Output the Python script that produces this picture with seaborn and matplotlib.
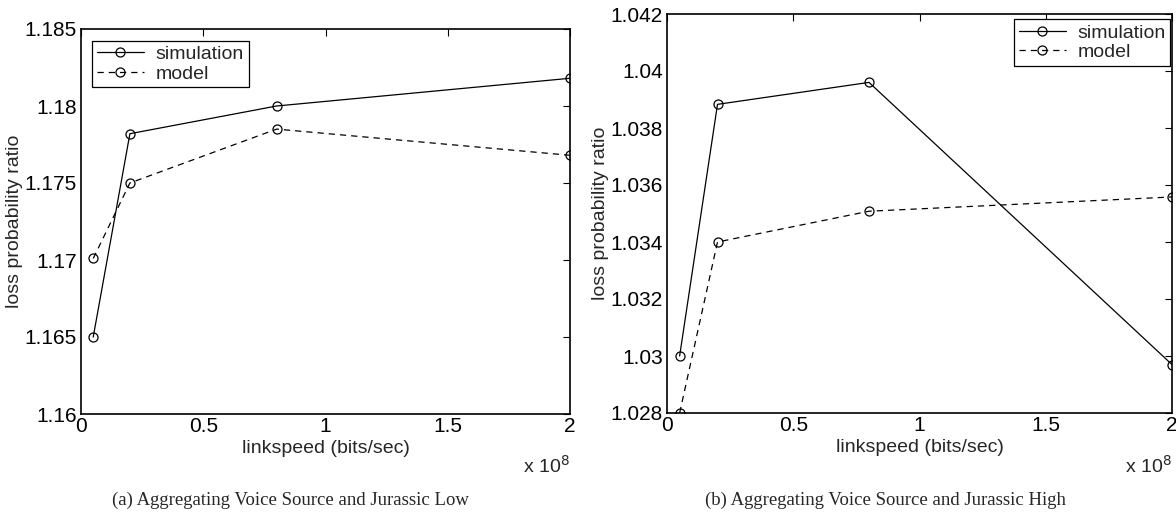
import numpy as np
import pandas as pd
import matplotlib
matplotlib.use("Agg")
import matplotlib.pyplot as plt
from matplotlib.ticker import FuncFormatter
import seaborn as sns

# ---- data ----
linkspeed = [0.05e8, 0.2e8, 0.8e8, 2.0e8]
low_simulation = [1.1650, 1.1782, 1.1800, 1.1818]
low_model = [1.1701, 1.1750, 1.1785, 1.1768]
high_simulation = [1.0300, 1.03883, 1.0396, 1.0297]
high_model = [1.0280, 1.0340, 1.03508, 1.03558]
series_labels = ["simulation", "model"]
x_ticks = [0, 0.5e8, 1.0e8, 1.5e8, 2.0e8]
low_yticks = [1.16, 1.165, 1.17, 1.175, 1.18, 1.185]
high_yticks = [1.028, 1.03, 1.032, 1.034, 1.036, 1.038, 1.04, 1.042]
captions = ["(a) Aggregating Voice Source and Jurassic Low",
            "(b) Aggregating Voice Source and Jurassic High"]
xlabel = "linkspeed (bits/sec)"
ylabel = "loss probability ratio"

sns.set_theme(style="white")
plt.rcParams['font.family'] = ['Liberation Sans', 'DejaVu Sans']

W, H = 1176, 516
fig = plt.figure(figsize=(W / 100, H / 100), dpi=100)


def px_axes(x0, x1, y0, y1):
    return fig.add_axes([x0 / W, 1 - y1 / H, (x1 - x0) / W, (y1 - y0) / H])


def draw(ax, sim, mod, yticks, legend_loc, legend_anchor):
    sns.lineplot(x=linkspeed, y=sim, ax=ax, color="black", marker="o",
                 markersize=6.5, markerfacecolor="none", markeredgecolor="black",
                 markeredgewidth=0.9, linewidth=0.9, label=series_labels[0])
    sns.lineplot(x=linkspeed, y=mod, ax=ax, color="black", marker="o",
                 markersize=6.5, markerfacecolor="none", markeredgecolor="black",
                 markeredgewidth=0.9, linewidth=0.9, linestyle=(0, (5, 4)),
                 label=series_labels[1])
    ax.set_xlim(0, 2.0e8)
    ax.set_ylim(yticks[0], yticks[-1])
    ax.set_xticks(x_ticks)
    ax.set_yticks(yticks)
    ax.xaxis.set_major_formatter(FuncFormatter(lambda v, p: "%g" % (v / 1e8)))
    ax.yaxis.set_major_formatter(FuncFormatter(lambda v, p: "%g" % round(v, 4)))
    ax.tick_params(direction="in", length=5, width=0.8, top=True, right=True,
                   labelsize=15, colors="black", pad=2)
    ax.tick_params(axis="y", pad=3)
    for s in ax.spines.values():
        s.set_color("black")
        s.set_linewidth(1.2)
        s.set_visible(True)
    ax.set_xlabel(xlabel, fontsize=14, labelpad=3)
    ax.set_ylabel(ylabel, fontsize=14, labelpad=1)
    ax.text(1.0, -0.105, r"x 10$^8$", transform=ax.transAxes, ha="right",
            va="top", fontsize=14)
    leg = ax.legend(loc=legend_loc, bbox_to_anchor=legend_anchor, fontsize=14,
                    frameon=True, fancybox=False, edgecolor="black",
                    framealpha=1, handlelength=2.4, borderpad=0.25,
                    labelspacing=0.1, handletextpad=0.6, borderaxespad=0.0)
    leg.get_frame().set_linewidth(0.9)
    ax.grid(False)
    ax.set_facecolor("white")


ax1 = px_axes(81, 570, 29, 414)
draw(ax1, low_simulation, low_model, low_yticks, "upper left", (0.023, 0.97))
ax2 = px_axes(667, 1172, 14, 413)
draw(ax2, high_simulation, high_model, high_yticks, "upper right", (0.997, 0.987))

fig.text(290 / W, 1 - 500 / H, captions[0], ha="center", va="center",
         fontsize=13.5, family=["Liberation Serif", "DejaVu Serif"])
fig.text(885 / W, 1 - 500 / H, captions[1], ha="center", va="center",
         fontsize=13.5, family=["Liberation Serif", "DejaVu Serif"])

fig.savefig("out.png", dpi=100, facecolor="white")
